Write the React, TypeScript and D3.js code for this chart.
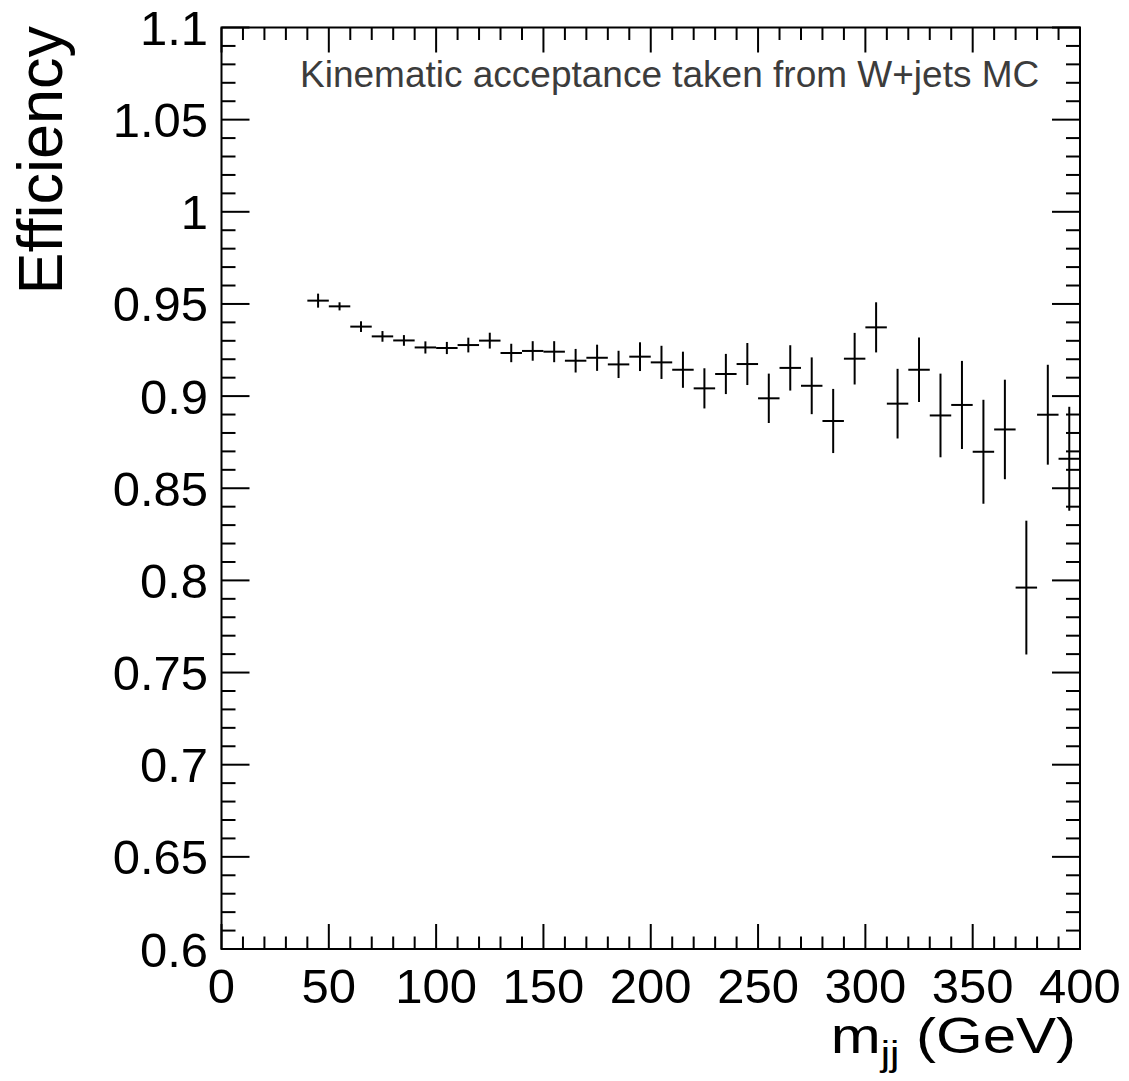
import React from "react";
import * as d3 from "d3";

const massCenters = [45, 55, 65, 75, 85, 95, 105, 115, 125, 135, 145, 155, 165, 175, 185, 195, 205, 215, 225, 235, 245, 255, 265, 275, 285, 295, 305, 315, 325, 335, 345, 355, 365, 375, 385, 395];
const efficiency = [0.9518, 0.9487, 0.9377, 0.9324, 0.9302, 0.9264, 0.9261, 0.9277, 0.9301, 0.9234, 0.9245, 0.9241, 0.9192, 0.9208, 0.9172, 0.9214, 0.9183, 0.9143, 0.9042, 0.912, 0.9174, 0.8988, 0.9153, 0.9056, 0.8865, 0.9203, 0.9373, 0.8959, 0.9143, 0.8895, 0.8952, 0.8698, 0.8819, 0.7961, 0.8899, 0.866];
const efficiencyErr = [0.0038, 0.0022, 0.0029, 0.0029, 0.0029, 0.0033, 0.0033, 0.004, 0.0043, 0.005, 0.0053, 0.0057, 0.0064, 0.0071, 0.0074, 0.0078, 0.009, 0.0098, 0.0109, 0.0109, 0.0114, 0.0134, 0.0123, 0.0154, 0.0174, 0.014, 0.0136, 0.0189, 0.0175, 0.0227, 0.0239, 0.0282, 0.027, 0.0363, 0.0271, 0.0282];
const binHalfWidth = 5;

const xTickValues = [0, 50, 100, 150, 200, 250, 300, 350, 400];
const xTickLabels = ["0", "50", "100", "150", "200", "250", "300", "350", "400"];
const yTickValues = [0.6, 0.65, 0.7, 0.75, 0.8, 0.85, 0.9, 0.95, 1.0, 1.05, 1.1];
const yTickLabels = ["0.6", "0.65", "0.7", "0.75", "0.8", "0.85", "0.9", "0.95", "1", "1.05", "1.1"];

const annotation = "Kinematic acceptance taken from W+jets MC";

const W = 1129;
const H = 1081;
const L = 221.5, R = 1080, T = 27.5, B = 949;
const FONT = "'Liberation Sans', Arial, Helvetica, sans-serif";

export default function App() {
  const x = d3.scaleLinear().domain([0, 400]).range([L, R]);
  const y = d3.scaleLinear().domain([0.6, 1.1]).range([B, T]);

  const xMinor = d3.range(0, 400.001, 10).filter((v) => v % 50 !== 0);
  const yMinor = d3.range(0, 50).map((i) => 0.6 + i * 0.01).filter((_, i) => i % 5 !== 0);

  const xMajLen = 25, xMinLen = 12.5, yMajLen = 28, yMinLen = 14;
  const sw = 2;

  return (
    <svg width={W} height={H} style={{ position: "absolute", left: 0, top: 0, background: "#fff" }} fontFamily={FONT}>
      <rect x={0} y={0} width={W} height={H} fill="#fff" />
      {xTickValues.map((v) => (
        <g key={"xM" + v} stroke="#000" strokeWidth={sw}>
          <line x1={x(v)} x2={x(v)} y1={B} y2={B - xMajLen} />
          <line x1={x(v)} x2={x(v)} y1={T} y2={T + xMajLen} />
        </g>
      ))}
      {xMinor.map((v) => (
        <g key={"xm" + v} stroke="#000" strokeWidth={sw}>
          <line x1={x(v)} x2={x(v)} y1={B} y2={B - xMinLen} />
          <line x1={x(v)} x2={x(v)} y1={T} y2={T + xMinLen} />
        </g>
      ))}
      {yTickValues.map((v) => (
        <g key={"yM" + v} stroke="#000" strokeWidth={sw}>
          <line x1={L} x2={L + yMajLen} y1={y(v)} y2={y(v)} />
          <line x1={R} x2={R - yMajLen} y1={y(v)} y2={y(v)} />
        </g>
      ))}
      {yMinor.map((v) => (
        <g key={"ym" + v} stroke="#000" strokeWidth={sw}>
          <line x1={L} x2={L + yMinLen} y1={y(v)} y2={y(v)} />
          <line x1={R} x2={R - yMinLen} y1={y(v)} y2={y(v)} />
        </g>
      ))}
      <rect x={L} y={T} width={R - L} height={B - T} fill="none" stroke="#000" strokeWidth={sw} />

      {massCenters.map((m, i) => (
        <g key={"p" + m} stroke="#000" strokeWidth={2}>
          <line x1={x(m - binHalfWidth)} x2={x(m + binHalfWidth)} y1={y(efficiency[i])} y2={y(efficiency[i])} />
          <line x1={x(m)} x2={x(m)} y1={y(efficiency[i] - efficiencyErr[i])} y2={y(efficiency[i] + efficiencyErr[i])} />
        </g>
      ))}

      {xTickValues.map((v, i) => (
        <text key={"xl" + v} x={x(v)} y={1003} textAnchor="middle" fontSize={49} fill="#000">
          {xTickLabels[i]}
        </text>
      ))}
      {yTickValues.map((v, i) => (
        <text key={"yl" + v} x={208} y={y(v) + 17.5} textAnchor="end" fontSize={49} fill="#000">
          {yTickLabels[i]}
        </text>
      ))}

      <text transform="translate(62,26) rotate(-90)" textAnchor="end" fontSize={63} fill="#000">
        Efficiency
      </text>
      <g transform="translate(1076,1053) scale(1.2,1)">
        <text x={0} y={0} textAnchor="end" fontSize={50} fill="#000">
          m
          <tspan fontSize={35} dy={13}>jj</tspan>
          <tspan dy={-13}> (GeV)</tspan>
        </text>
      </g>

      <text x={300} y={86.7} fontSize={37} fill="#3c3c3c">
        {annotation}
      </text>
    </svg>
  );
}
